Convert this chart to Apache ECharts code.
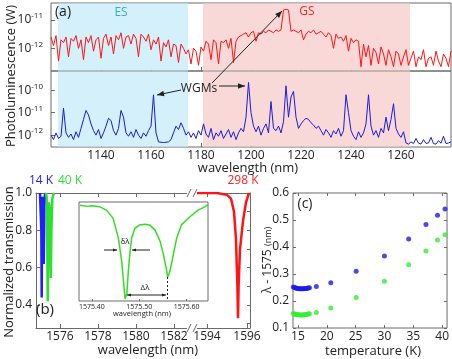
<!DOCTYPE html>
<html>
<head>
<meta charset="utf-8">
<script src="https://cdn.jsdelivr.net/npm/echarts@6/dist/echarts.min.js"></script>
<style>
  html, body { margin: 0; padding: 0; background: #fff; }
  #chart { width: 452px; height: 359px; }
</style>
</head>
<body>
<div id="chart"></div>
<script>
// (a) photoluminescence, log10(P / W), one value per nm starting at plStart
var plStart = 1120;
var redPL = [
  -11.6, -11.9, -11.55, -12.45, -11.7, -11.8, -11.6, -12.3, -11.65,
  -11.75, -11.55, -12.0, -11.7, -12.4, -11.6, -11.8, -11.55, -12.1, -11.7, -11.6, -12.35,
  -11.65, -11.5, -11.9, -11.6, -12.2, -11.55, -11.7, -11.45, -12.0, -11.6,
  -11.55, -11.85, -11.5, -11.65, -12.3, -11.5, -11.6, -11.75, -11.5, -12.05,
  -11.7, -11.85, -11.6, -12.45, -11.8, -11.95, -11.7, -12.3,
  -11.85, -11.9, -12.5, -11.85, -12.0, -12.2,
  -12.05, -12.55, -12.0, -12.1, -12.6, -11.95, -12.1,
  -11.75, -11.85, -12.4, -11.7, -11.8, -12.55, -11.75,
  -11.8, -11.7, -12.0, -11.65, -12.5, -11.75, -11.6, -11.55,
  -11.5, -11.45, -11.6, -11.45, -11.4, -11.75, -11.45, -11.5, -11.4, -11.45, -11.35, -11.4, -11.45, -11.35, -11.4, -11.35,
  -10.65, -10.62, -10.65,
  -11.4, -11.35, -11.4, -11.45, -11.35, -11.7, -11.5, -11.4, -11.45, -11.35, -11.5, -11.45, -11.4,
  -11.5, -11.6, -11.45, -11.55, -12.0, -11.5, -11.65, -11.6, -11.75, -11.55, -12.1, -11.65, -11.8, -11.7, -11.75,
  -12.65,
  -11.85, -12.3, -11.9, -12.6, -12.0, -12.15, -12.55, -11.95, -12.2, -12.6, -12.05, -12.3, -12.65, -12.1, -12.2, -12.6,
  -12.3, -12.05, -12.6, -12.35, -12.1, -12.65, -12.3, -12.4, -12.05, -12.65, -12.35, -12.3, -12.6, -12.1, -12.45, -12.65, -12.2, -12.35, -12.65, -12.1
];
var bluePL = [
  -12.0, -12.2, -11.9, -12.15, -12.05,
  -10.8,
  -11.9, -12.1, -11.95, -12.2, -11.85, -12.1, -11.7,
  -11.3, -10.9, -11.1, -11.5, -11.8,
  -12.0, -11.75, -12.15, -11.9, -11.6,
  -11.25, -11.35, -11.8,
  -12.0, -11.7,
  -10.9, -11.2, -11.9,
  -12.05, -11.85, -12.1, -11.75, -12.0, -12.15, -11.9, -12.05, -11.8, -11.6,
  -10.2,
  -11.9,
  -12.3, -12.32, -12.33, -12.32, -12.3, -12.2, -11.9,
  -11.6, -11.75, -11.45, -11.7, -12.0,
  -11.85, -12.1, -11.9, -12.15, -11.8, -12.0,
  -11.5,
  -11.95, -12.1, -11.7, -12.2, -11.9, -12.05, -11.8, -12.15, -11.95, -11.75, -12.1, -11.85, -12.2, -11.9, -11.7, -11.85,
  -11.2, -9.65, -11.0, -11.6,
  -11.85, -11.6, -12.0, -11.7, -11.5, -11.9,
  -10.5, -11.7,
  -11.8, -11.6, -11.9, -11.4,
  -9.8, -11.2, -10.3, -10.05, -11.2,
  -11.7, -11.5, -11.35, -11.25, -11.3, -11.45, -11.55, -11.7, -11.6,
  -11.8, -12.0, -11.75, -11.9, -12.1, -11.8, -11.95, -11.7, -12.05, -11.8,
  -10.2, -11.0, -11.8,
  -12.05, -12.2, -11.85, -12.1, -11.9, -11.5,
  -10.2, -11.6,
  -12.0, -11.8, -12.1, -11.7, -11.9,
  -11.2, -11.8, -11.3, -10.6, -11.7,
  -11.95, -12.1, -11.85,
  -12.35, -12.4, -12.3, -12.38, -12.15, -12.36, -12.4, -12.2, -12.37, -12.35, -12.1, -12.38, -12.4, -12.25, -12.36, -12.05, -12.38, -12.35, -12.3
];
var esBand = [1122.8, 1174.8];
var gsBand = [1180.8, 1263.6];
var plTicks = [1140, 1160, 1180, 1200, 1220, 1240, 1260];
var plTopTicks = [-12, -11];
var plBotTicks = [-12, -11, -10];

// (b) normalized transmission
var lam14 = [1574.95, 1575.00, 1575.02, 1575.04, 1575.06, 1575.09, 1575.12, 1575.15, 1575.18, 1575.21, 1575.26];
var tr14  = [1.0, 0.99, 0.80, 0.44, 0.82, 0.98, 0.93, 0.62, 0.92, 0.99, 1.0];
var lam40 = [1575.26, 1575.30, 1575.33, 1575.36, 1575.39, 1575.42, 1575.45, 1575.49, 1575.52, 1575.55, 1575.60, 1575.68];
var tr40  = [1.0, 0.98, 0.75, 0.42, 0.78, 0.95, 0.93, 0.75, 0.545, 0.80, 0.97, 1.0];
var lam298 = [1593.3, 1594.5, 1595.0, 1595.2, 1595.35, 1595.45, 1595.52, 1595.55, 1595.58, 1595.65, 1595.8, 1595.95, 1596.1];
var tr298  = [1.0, 1.0, 0.99, 0.97, 0.9, 0.75, 0.5, 0.33, 0.5, 0.7, 0.85, 0.95, 1.0];
var bTicksLeft = [1576, 1578, 1580, 1582];
var bTicksRight = [1594, 1596];
var bTicksY = [0.4, 0.6, 0.8, 1.0];

// (b) inset, 40 K doublet (relative transmission)
var insetLam = [1575.375, 1575.39, 1575.40, 1575.417, 1575.431, 1575.445, 1575.456, 1575.463, 1575.468, 1575.470,
  1575.474, 1575.477, 1575.480, 1575.484, 1575.491, 1575.501, 1575.512, 1575.522, 1575.533, 1575.544,
  1575.551, 1575.558, 1575.560, 1575.565, 1575.572, 1575.579, 1575.589, 1575.607, 1575.624, 1575.638, 1575.645];
var insetTr = [0.987, 0.975, 0.982, 0.970, 0.936, 0.851, 0.648, 0.412, 0.142, 0.024,
  0.075, 0.311, 0.480, 0.648, 0.750, 0.784, 0.790, 0.784, 0.733, 0.615,
  0.480, 0.311, 0.244, 0.311, 0.480, 0.648, 0.784, 0.868, 0.936, 0.970, 0.994];
var insetTicks = [1575.40, 1575.50, 1575.60];

// (c) resonance shift vs temperature
var temps = [14.2, 14.4, 14.6, 14.8, 15.0, 15.2, 15.4, 15.6, 15.8, 16.0, 16.2, 16.4, 16.6, 16.8, 17.0, 18.2, 20.7, 25.1, 30.0, 34.2, 37.2, 39.2, 40.5];
var shiftBlue = [0.252, 0.250, 0.248, 0.247, 0.246, 0.245, 0.245, 0.245, 0.245, 0.245, 0.246, 0.246, 0.247, 0.248, 0.249, 0.254, 0.268, 0.310, 0.367, 0.430, 0.483, 0.518, 0.541];
var shiftGreen = [0.154, 0.152, 0.151, 0.150, 0.149, 0.149, 0.148, 0.148, 0.148, 0.149, 0.149, 0.150, 0.151, 0.152, 0.153, 0.157, 0.174, 0.213, 0.273, 0.334, 0.385, 0.426, 0.445];
var cTicksX = [15, 20, 25, 30, 35, 40];
var cTicksY = [0.1, 0.2, 0.3, 0.4, 0.5, 0.6];

var FONT = '"Open Sans", sans-serif';
var INK = '#222';
var FRAME = '#6a6a6a';

function pairs(xs, ys) { return xs.map(function (x, i) { return [x, ys[i]]; }); }
function plPairs(vals) { return vals.map(function (v, i) { return [plStart + i, v]; }); }

function valAxis(o) {
  var ax = {
    type: 'value', splitLine: { show: false },
    axisLine: { show: false, lineStyle: { color: FRAME, width: 1 } },
    axisTick: { show: true, inside: true, length: 4, lineStyle: { color: FRAME } },
    axisLabel: { show: false, color: INK, fontFamily: FONT, fontSize: 12,
      formatter: function (v) { return String(v); } }
  };
  for (var k in o) {
    if (typeof o[k] === 'object' && !Array.isArray(o[k]) && ax[k]) {
      for (var j in o[k]) ax[k][j] = o[k][j];
    } else ax[k] = o[k];
  }
  return ax;
}

function logLabel(v) { return '{b|10}{s|' + Math.round(v) + '}'; }
var logRich = {
  b: { fontSize: 12, fontFamily: FONT, color: INK, lineHeight: 16 },
  s: { fontSize: 8, fontFamily: FONT, color: INK, verticalAlign: 'top', lineHeight: 10 }
};

function txt(x, y, s, size, color, extra) {
  var el = { type: 'text', x: x, y: y, z: 100,
    style: { text: s, fontFamily: FONT, fontSize: size, fill: color || INK, align: 'center', verticalAlign: 'middle' } };
  if (extra) for (var k in extra) el[k] = extra[k];
  return el;
}
function tip(ax, ay, bx, by, h) {
  var a = Math.atan2(by - ay, bx - ax), w = h * 0.4;
  return { type: 'polygon', z: 100, shape: { points: [[bx, by],
    [bx - h * Math.cos(a) + w * Math.sin(a), by - h * Math.sin(a) - w * Math.cos(a)],
    [bx - h * Math.cos(a) - w * Math.sin(a), by - h * Math.sin(a) + w * Math.cos(a)]] },
    style: { fill: INK } };
}
function arrow(x1, y1, x2, y2, h, both) {
  var els = [{ type: 'line', z: 100, shape: { x1: x1, y1: y1, x2: x2, y2: y2 }, style: { stroke: INK, lineWidth: 1 } }];
  els.push(tip(x1, y1, x2, y2, h));
  if (both) els.push(tip(x2, y2, x1, y1, h));
  return els;
}
function breakMark(x, y) {
  return [
    { type: 'rect', z: 99, shape: { x: x - 5, y: y - 2, width: 10, height: 4 }, style: { fill: '#fff' } },
    { type: 'line', z: 100, shape: { x1: x - 5, y1: y + 4, x2: x - 1, y2: y - 4 }, style: { stroke: FRAME, lineWidth: 1 } },
    { type: 'line', z: 100, shape: { x1: x + 1, y1: y + 4, x2: x + 5, y2: y - 4 }, style: { stroke: FRAME, lineWidth: 1 } }
  ];
}

var bandArea = function (ymin, ymax) {
  return {
    silent: true,
    data: [
      [{ xAxis: esBand[0], yAxis: ymin, itemStyle: { color: '#d3f0fb' } }, { xAxis: esBand[1], yAxis: ymax }],
      [{ xAxis: gsBand[0], yAxis: ymin, itemStyle: { color: '#f9d8d8' } }, { xAxis: gsBand[1], yAxis: ymax }]
    ]
  };
};

var chart = echarts.init(document.getElementById('chart'), null, { renderer: 'canvas' });

var option = {
  animation: false,
  backgroundColor: '#fff',
  grid: [
    { left: 51, top: 3, width: 400, height: 68, show: true, borderColor: FRAME, borderWidth: 1 },
    { left: 51, top: 71, width: 400, height: 76, show: true, borderColor: FRAME, borderWidth: 1 },
    { left: 36, top: 193, width: 156, height: 135 },
    { left: 192, top: 193, width: 58, height: 135 },
    { left: 79, top: 202, width: 129, height: 99, show: true, borderColor: FRAME, borderWidth: 1, backgroundColor: '#fff' },
    { left: 293, top: 193, width: 157, height: 135, show: true, borderColor: FRAME, borderWidth: 1 }
  ],
  xAxis: [
    valAxis({ gridIndex: 0, min: 1120, max: 1280, axisTick: { customValues: plTicks } }),
    valAxis({ gridIndex: 1, min: 1120, max: 1280, axisTick: { customValues: plTicks },
      axisLabel: { show: true, customValues: plTicks, margin: 3 } }),
    valAxis({ gridIndex: 2, min: 1574.74, max: 1582.95, axisLine: { show: true },
      axisTick: { customValues: bTicksLeft }, axisLabel: { show: true, customValues: bTicksLeft, margin: 3 } }),
    valAxis({ gridIndex: 2, position: 'top', min: 1574.74, max: 1582.95, axisLine: { show: true },
      axisTick: { customValues: bTicksLeft } }),
    valAxis({ gridIndex: 3, min: 1593.25, max: 1596.15, axisLine: { show: true },
      axisTick: { customValues: bTicksRight }, axisLabel: { show: true, customValues: bTicksRight, margin: 3 } }),
    valAxis({ gridIndex: 3, position: 'top', min: 1593.25, max: 1596.15, axisLine: { show: true },
      axisTick: { customValues: bTicksRight } }),
    valAxis({ gridIndex: 4, min: 1575.373, max: 1575.645, axisTick: { customValues: insetTicks, length: 2 },
      axisLabel: { show: true, customValues: insetTicks, margin: 2, fontSize: 7,
        formatter: function (v) { return v.toFixed(2); } } }),
    valAxis({ gridIndex: 5, min: 14.15, max: 40.85, axisTick: { customValues: cTicksX, length: 3 },
      axisLabel: { show: true, customValues: cTicksX, margin: 3 } }),
    valAxis({ gridIndex: 5, position: 'top', min: 14.15, max: 40.85, axisTick: { customValues: cTicksX, length: 3 } })
  ],
  yAxis: [
    valAxis({ gridIndex: 0, min: -12.8, max: -10.4, axisTick: { customValues: plTopTicks },
      axisLabel: { show: true, customValues: plTopTicks, margin: 8, formatter: logLabel, rich: logRich } }),
    valAxis({ gridIndex: 1, min: -12.53, max: -9.14, axisTick: { customValues: plBotTicks },
      axisLabel: { show: true, customValues: plBotTicks, margin: 8, formatter: logLabel, rich: logRich } }),
    valAxis({ gridIndex: 2, min: 0.277, max: 1.0, axisLine: { show: true },
      axisTick: { customValues: bTicksY }, axisLabel: { show: true, customValues: bTicksY, margin: 4,
        formatter: function (v) { return v.toFixed(1); } } }),
    valAxis({ gridIndex: 3, position: 'right', min: 0.277, max: 1.0, axisLine: { show: true },
      axisTick: { customValues: [0.3, 0.4, 0.5, 0.6, 0.7, 0.8, 0.9, 1.0], length: 3 } }),
    valAxis({ gridIndex: 4, min: 0, max: 1.02, axisTick: { show: false } }),
    valAxis({ gridIndex: 5, min: 0.1, max: 0.6, axisTick: { customValues: cTicksY, length: 3 },
      axisLabel: { show: true, customValues: cTicksY, margin: 4,
        formatter: function (v) { return v.toFixed(1); } } }),
    valAxis({ gridIndex: 5, position: 'right', min: 0.1, max: 0.6, axisTick: { customValues: cTicksY, length: 3 } })
  ],
  series: [
    { type: 'line', xAxisIndex: 0, yAxisIndex: 0, data: plPairs(redPL), symbol: 'none',
      lineStyle: { color: '#ff1414', width: 1 }, markArea: bandArea(-12.78, -10.42) },
    { type: 'line', xAxisIndex: 1, yAxisIndex: 1, data: plPairs(bluePL), symbol: 'none',
      lineStyle: { color: '#1c1cd6', width: 1 }, markArea: bandArea(-12.51, -9.16) },
    { type: 'line', xAxisIndex: 2, yAxisIndex: 2, data: pairs(lam14, tr14), symbol: 'none',
      lineStyle: { color: '#1f1fff', width: 2.5 } },
    { type: 'line', xAxisIndex: 2, yAxisIndex: 2, data: pairs(lam40, tr40), symbol: 'none',
      lineStyle: { color: '#2ee02e', width: 2.5 } },
    { type: 'line', xAxisIndex: 4, yAxisIndex: 3, data: pairs(lam298, tr298), symbol: 'none',
      lineStyle: { color: '#ff1414', width: 2.5 } },
    { type: 'line', xAxisIndex: 6, yAxisIndex: 4, data: pairs(insetLam, insetTr), symbol: 'none', z: 6,
      lineStyle: { color: '#33dd22', width: 1.5 } },
    { type: 'scatter', xAxisIndex: 7, yAxisIndex: 5, data: pairs(temps, shiftBlue), symbolSize: 5,
      itemStyle: { color: '#1a1aee' } },
    { type: 'scatter', xAxisIndex: 7, yAxisIndex: 5, data: pairs(temps, shiftGreen), symbolSize: 5,
      itemStyle: { color: '#33ee33' } }
  ],
  graphic: [].concat(
    [
      txt(11, 76, 'Photoluminescence (W)', 13, INK, { rotation: Math.PI / 2 }),
      txt(248, 168, 'wavelength (nm)', 13),
      txt(63, 12, '(a)', 14),
      txt(121, 13, 'ES', 12, '#3aa9dc'),
      txt(307, 12, 'GS', 12, '#ee2a2a'),
      txt(199, 89, 'WGMs', 12)
    ],
    arrow(212, 83, 282, 11, 7),
    arrow(181, 90, 157, 95, 7),
    arrow(219, 86, 245, 86, 7),
    [
      txt(9, 262, 'Normalized transmission', 13, INK, { rotation: Math.PI / 2 }),
      txt(148, 350, 'wavelength (nm)', 13),
      txt(45, 310, '(b)', 15),
      txt(41, 181, '14 K', 12, '#2222ee'),
      txt(70, 181, '40 K', 12, '#33dd33'),
      txt(243, 181, '298 K', 12, '#ff2222')
    ],
    breakMark(192, 193),
    breakMark(192, 328),
    [
      txt(142, 314, 'wavelength (nm)', 7.5),
      txt(125, 242, 'δλ', 8),
      txt(145, 288, 'Δλ', 8),
      { type: 'line', z: 100, shape: { x1: 167.5, y1: 277, x2: 167.5, y2: 301 },
        style: { stroke: INK, lineWidth: 1, lineDash: [2, 2] } }
    ],
    arrow(104, 250, 117, 250, 4),
    arrow(150, 250, 132, 250, 4),
    arrow(127, 295, 166, 295, 4, true),
    [
      txt(305, 204, '(c)', 14),
      { type: 'text', x: 268, y: 260, z: 100, rotation: Math.PI / 2,
        style: { text: '{a|λ - 1575} {b|(nm)}', align: 'center', verticalAlign: 'middle',
          rich: { a: { fontFamily: FONT, fontSize: 12, fill: INK }, b: { fontFamily: FONT, fontSize: 9, fill: INK } } } },
      txt(373, 351, 'temperature (K)', 13)
    ]
  )
};

chart.setOption(option);
</script>
</body>
</html>
